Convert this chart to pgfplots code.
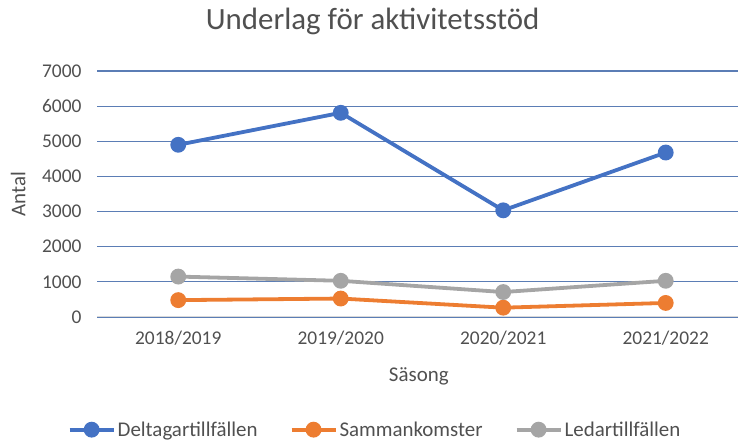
\documentclass[border=0pt]{standalone}
\usepackage{fontspec}
\setmainfont{Carlito}
\usepackage{pgfplots}
\pgfplotsset{compat=1.18}
\definecolor{cBlue}{HTML}{4472C4}
\definecolor{cOrange}{HTML}{ED7D31}
\definecolor{cGray}{HTML}{A5A5A5}
\definecolor{cGrid}{HTML}{5B7DB5}
\definecolor{cText}{HTML}{505050}
\begin{document}
\begin{tikzpicture}[x=1bp,y=1bp]
\useasboundingbox (0,0) rectangle (738,441);
\begin{axis}[
  at={(97bp,124bp)}, anchor=south west,
  scale only axis, width=641bp, height=246bp,
  xmin=-0.5, xmax=3.445, ymin=0, ymax=7000,
  xtick={0,1,2,3},
  xticklabels={2018/2019,2019/2020,2020/2021,2021/2022},
  ytick={0,1000,...,7000},
  axis line style={draw=none},
  tick style={draw=none},
  ymajorgrids,
  grid style={cGrid, line width=1.1bp},
  extra y ticks={0}, extra y tick labels={},
  extra y tick style={grid style={draw=gray!30, line width=1bp}},
  /pgf/number format/assume math mode=true,
  /pgf/number format/1000 sep={},
  ticklabel style={font=\fontsize{19.5}{22}\selectfont, text=cText},
  yticklabel style={xshift=-12bp},
  xticklabel style={yshift=-10bp},
  title={Underlag för aktivitetsstöd},
  title style={font=\fontsize{31}{36}\selectfont, text=cText, at={(axis description cs:0.43,1.179)}, anchor=center},
  xlabel={Säsong},
  xlabel style={font=\fontsize{21}{25}\selectfont, text=cText, at={(axis description cs:0.502,-0.24)}, anchor=center},
  ylabel={Antal},
  ylabel style={font=\fontsize{21}{25}\selectfont, text=cText, at={(axis description cs:-0.123,0.5)}, anchor=center},
  legend columns=3,
  legend style={at={(axis description cs:0.4337,-0.458)}, anchor=center, draw=none,
    font=\fontsize{21}{24}\selectfont, text=cText,
    /tikz/every even column/.append style={column sep=30bp}},
  legend image code/.code={
    \draw[#1, mark=none, line width=4bp] (0bp,0bp) -- (44bp,0bp);
    \fill[#1] (22bp,0bp) circle (6bp);
  },
  every axis plot/.append style={line width=3.8bp, mark=*, mark size=6bp},
]
\addplot[cBlue, mark options={fill=cBlue, draw=cBlue}] coordinates {(0,4900) (1,5810) (2,3035) (3,4680)};
\addlegendentry{Deltagartillfällen}
\addplot[cOrange, mark options={fill=cOrange, draw=cOrange}] coordinates {(0,480) (1,525) (2,265) (3,400)};
\addlegendentry{Sammankomster}
\addplot[cGray, mark options={fill=cGray, draw=cGray}] coordinates {(0,1150) (1,1030) (2,710) (3,1030)};
\addlegendentry{Ledartillfällen}
\end{axis}
\end{tikzpicture}
\end{document}
